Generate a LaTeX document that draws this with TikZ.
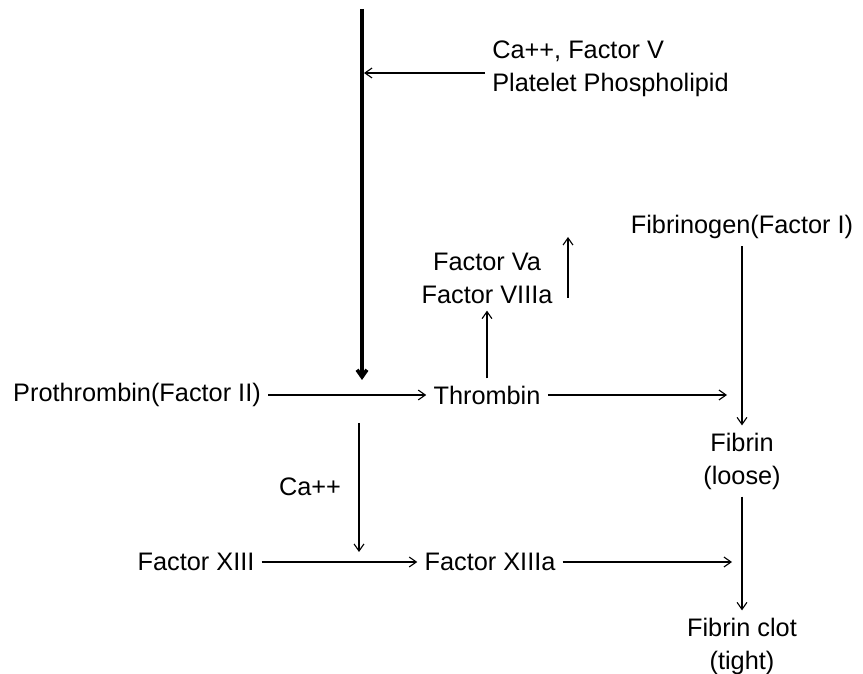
\documentclass[tikz,border=0pt]{standalone}
\usepackage{fontspec}
\setmainfont{Liberation Sans}
\usetikzlibrary{arrows.meta}

\tikzset{
  link/.style={-{Straight Barb[length=5pt,width=7pt]}, line width=0.8pt},
  heavy/.style={-{Straight Barb[length=5pt,width=7pt]}, line width=2.6pt},
  every node/.style={align=center, inner sep=5pt}
}

\begin{document}
\begin{tikzpicture}[x=0.025cm, y=-0.025cm, font=\fontsize{18}{23.5}\selectfont]
        \useasboundingbox (0,0) rectangle (863,674);
        % substances
        \node (prot) at (137,395) {Prothrombin(Factor II)};
        \node (thr)  at (487,395) {Thrombin};
        \node (fva)  at (487,278) {Factor Va\\Factor VIIIa};
        \node (fbg)  at (742,227) {Fibrinogen(Factor I)};
        \node (fib)  at (742,461) {Fibrin\\(loose)};
        \node (clot) at (742,646) {Fibrin clot\\(tight)};
        \node (f13)  at (196,562) {Factor XIII};
        \node (f13a) at (490,562) {Factor XIIIa};
        % cofactors
        \node[anchor=west, align=left] (cof) at (485,69)
              {Ca++, Factor V\\Platelet Phospholipid};
        \node (ca) at (310,487) {Ca++};
        % free ends
        \coordinate (top)   at (362,9);
        \coordinate (hit)   at (362,380);
        \coordinate (side)  at (364,73);
        \coordinate (dropA) at (359,423);
        \coordinate (dropB) at (359,552);
        \coordinate (upA)   at (568,298);
        \coordinate (upB)   at (568,237);
        \coordinate (toFib) at (727,395);
        \coordinate (toClt) at (732,562);
        % arrows
        \draw[heavy](top)--(hit);
        \draw[link](cof.west|-side)--(side);
        \draw[link](prot)--(thr);
        \draw[link](thr)--(fva);
        \draw[link](upA)--(upB);
        \draw[link](thr)--(toFib);
        \draw[link](fbg)--(fib);
        \draw[link](fib)--(clot);
        \draw[link](dropA)--(dropB);
        \draw[link](f13)--(f13a);
        \draw[link](f13a)--(toClt);
      \end{tikzpicture}
\end{document}
